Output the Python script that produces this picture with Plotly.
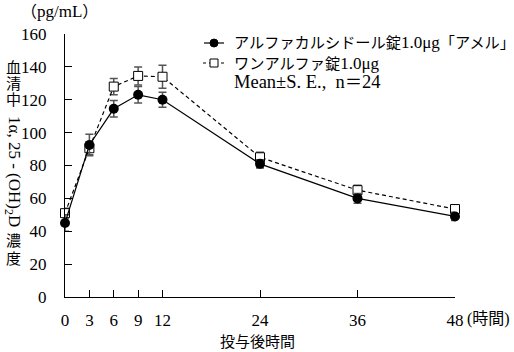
import plotly.graph_objects as go

# ---- data ----
hours = [0, 3, 6, 9, 12, 24, 36, 48]
amel_mean = [45, 92.5, 114.5, 123, 120, 81, 60, 49]
amel_se = [5, 6.5, 5, 5, 4.5, 2.5, 3, 2.5]
one_mean = [51, 90.5, 128, 134.5, 134, 85, 65, 53.5]
one_se = [3, 4, 5, 5.5, 7, 3, 3, 2.5]
x_ticks = [0, 3, 6, 9, 12, 24, 36, 48]
y_ticks = [0, 20, 40, 60, 80, 100, 120, 140, 160]


def cjk(s, size=15):
    return f'<span style="font-size:{size}px">{s}</span>'


name_amel = cjk("アルファカルシドール錠", 15.2) + "1.0μg" + cjk("「アメル」", 15.2)
name_one = cjk("ワンアルファ錠", 15.2) + "1.0μg"

FONT = "Liberation Serif, Noto Sans CJK JP, serif"
W, H = 514, 352
L, R, T, B = 65, 59, 34, 55
PW, PH = W - L - R, H - T - B


def px_x(p):
    return (p - L) / PW


def px_y(p):
    return (H - B - p) / PH


fig = go.Figure()
fig.add_trace(go.Scatter(
    x=hours, y=one_mean, name="one", mode="lines+markers",
    line=dict(color="black", width=1.2, dash="4px,3px"),
    marker=dict(symbol="square", size=9, color="white",
                line=dict(color="black", width=1)),
    error_y=dict(type="data", array=one_se, color="#555", thickness=1.5, width=4),
    cliponaxis=False,
))
fig.add_trace(go.Scatter(
    x=hours, y=amel_mean, name="amel", mode="lines+markers",
    line=dict(color="black", width=1.2),
    marker=dict(symbol="circle", size=10, color="black"),
    error_y=dict(type="data", array=amel_se, color="#555", thickness=1.5, width=4),
    cliponaxis=False,
))

fig.update_layout(
    width=W, height=H,
    margin=dict(l=L, r=R, t=T, b=B, autoexpand=False),
    paper_bgcolor="white", plot_bgcolor="white",
    font=dict(family=FONT, size=17, color="black"),
    showlegend=False,
    xaxis=dict(range=[0, 48], tickmode="array", tickvals=x_ticks,
               ticktext=[str(v) for v in x_ticks],
               showgrid=False, zeroline=False, showline=True,
               linecolor="black", linewidth=1, ticks="inside", ticklen=7,
               tickcolor="black", ticklabelstandoff=8,
               tickfont=dict(family=FONT, size=17)),
    yaxis=dict(range=[0, 160], tickmode="array", tickvals=y_ticks,
               showgrid=False, zeroline=False, showline=True,
               linecolor="black", linewidth=1, ticks="inside", ticklen=7,
               tickcolor="black", ticklabelstandoff=14,
               tickfont=dict(family=FONT, size=17)),
)

# manual legend glyphs (paper coordinates)
shapes = []
shapes.append(dict(type="line", x0=px_x(204), x1=px_x(224), y0=px_y(43), y1=px_y(43),
                   line=dict(color="black", width=1.2)))
shapes.append(dict(type="circle", x0=px_x(210), x1=px_x(218), y0=px_y(39), y1=px_y(47),
                   fillcolor="black", line=dict(color="black", width=1)))
shapes.append(dict(type="line", x0=px_x(203), x1=px_x(225), y0=px_y(63), y1=px_y(63),
                   line=dict(color="black", width=1.2, dash="3px,3px")))
shapes.append(dict(type="rect", x0=px_x(210), x1=px_x(218), y0=px_y(59), y1=px_y(67),
                   fillcolor="white", line=dict(color="black", width=1)))
for s in shapes:
    s.update(xref="paper", yref="paper", layer="above")
fig.update_layout(shapes=shapes)

ann = []
ann.append(dict(text=name_amel, x=px_x(232), y=px_y(43), xanchor="left", yanchor="middle"))
ann.append(dict(text=name_one, x=px_x(232), y=px_y(63), xanchor="left", yanchor="middle"))
ann.append(dict(text="Mean±S. E.,  n" + cjk("＝", 17) + "24", x=px_x(232), y=px_y(82),
                xanchor="left", yanchor="middle",
                font=dict(family=FONT, size=18.5, color="black")))
ann.append(dict(text=cjk("（", 16) + "pg/mL" + cjk("）", 16), x=px_x(59), y=px_y(12),
                xanchor="center", yanchor="middle"))
ann.append(dict(text=cjk("(時間)", 16), x=px_x(465), y=px_y(319),
                xanchor="left", yanchor="middle"))
ann.append(dict(text=cjk("投与後時間"), x=px_x(257), y=px_y(342),
                xanchor="center", yanchor="middle"))
for ch, py in [("血", 68), ("清", 84), ("中", 100), ("濃", 241), ("度", 259)]:
    ann.append(dict(text=cjk(ch), x=px_x(13), y=px_y(py),
                    xanchor="center", yanchor="middle"))
ann.append(dict(text="1α, 25 - (OH)<sub>2</sub>D", x=px_x(13), y=px_y(171),
                xanchor="center", yanchor="middle", textangle=90))
for a in ann:
    a.setdefault("font", dict(family=FONT, size=17, color="black"))
    a.update(xref="paper", yref="paper", showarrow=False)
fig.update_layout(annotations=ann)

fig.write_html("out.html")
